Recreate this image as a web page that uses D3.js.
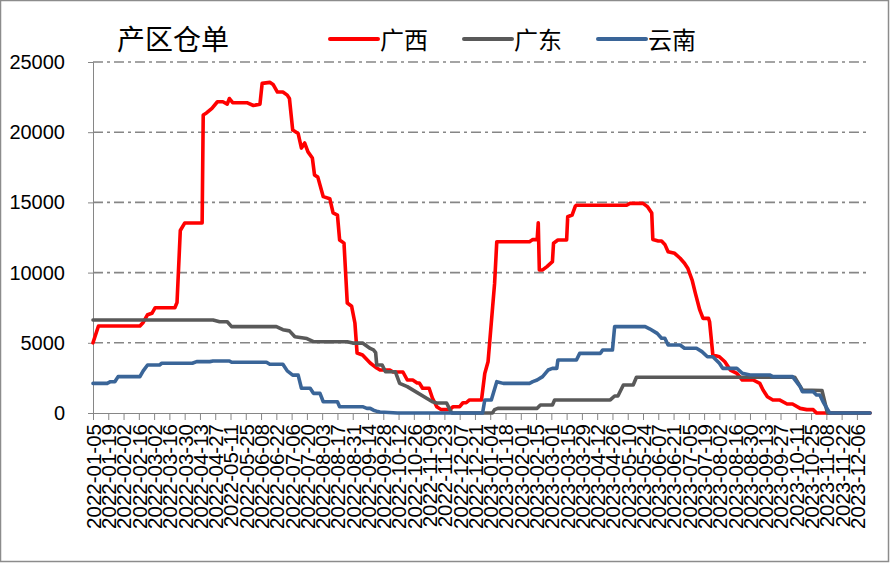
<!DOCTYPE html>
<html>
<head>
<meta charset="utf-8">
<script src="https://cdn.jsdelivr.net/npm/d3@7"></script>
<style>
  body { margin: 0; background: #fff; }
  svg { display: block; }
</style>
</head>
<body>
<svg width="890" height="564"></svg>
<script>
// tick labels, every 14 days
var tickDates = [
  "2022-01-05","2022-01-19","2022-02-02","2022-02-16","2022-03-02","2022-03-16","2022-03-30",
  "2022-04-13","2022-04-27","2022-05-11","2022-05-25","2022-06-08","2022-06-22","2022-07-06",
  "2022-07-20","2022-08-03","2022-08-17","2022-08-31","2022-09-14","2022-09-28","2022-10-12",
  "2022-10-26","2022-11-09","2022-11-23","2022-12-07","2022-12-21","2023-01-04","2023-01-18",
  "2023-02-01","2023-02-15","2023-03-01","2023-03-15","2023-03-29","2023-04-12","2023-04-26",
  "2023-05-10","2023-05-24","2023-06-07","2023-06-21","2023-07-05","2023-07-19","2023-08-02",
  "2023-08-16","2023-08-30","2023-09-13","2023-09-27","2023-10-11","2023-10-25","2023-11-08",
  "2023-11-22","2023-12-06"
];
var yTicks = [0, 5000, 10000, 15000, 20000, 25000];
var startDate = "2022-01-05", endDate = "2023-12-18";

var title = "产区仓单";
var seriesNames = ["广西", "广东", "云南"];
var seriesColors = ["#ff0000", "#595959", "#3a6598"];

// 广西
var guangxi = [
  ["2022-01-05",5000],["2022-01-10",6200],["2022-02-17",6200],["2022-02-20",6450],["2022-02-24",7000],
  ["2022-02-28",7100],["2022-03-03",7500],["2022-03-21",7500],["2022-03-23",7870],["2022-03-26",13000],
  ["2022-03-30",13530],["2022-04-15",13530],["2022-04-16",21230],["2022-04-19",21370],["2022-04-24",21700],
  ["2022-04-29",22170],["2022-05-04",22170],["2022-05-08",22000],["2022-05-10",22400],["2022-05-13",22100],
  ["2022-05-26",22100],["2022-06-01",21900],["2022-06-07",22000],["2022-06-09",23480],["2022-06-16",23550],
  ["2022-06-19",23400],["2022-06-23",22860],["2022-06-28",22860],["2022-07-02",22640],["2022-07-04",22400],
  ["2022-07-07",20150],["2022-07-12",19900],["2022-07-15",18870],["2022-07-18",19230],["2022-07-21",18600],
  ["2022-07-25",18160],["2022-07-27",16950],["2022-07-30",16800],["2022-08-04",15410],["2022-08-10",15260],
  ["2022-08-13",14250],["2022-08-17",14100],["2022-08-19",12320],["2022-08-23",12100],["2022-08-26",7830],
  ["2022-08-30",7600],["2022-09-02",6410],["2022-09-04",4270],["2022-09-09",4130],["2022-09-16",3560],
  ["2022-09-22",3200],["2022-09-25",3060],["2022-10-04",3060],["2022-10-07",2920],["2022-10-16",2920],
  ["2022-10-20",2350],["2022-10-25",2350],["2022-10-29",2140],["2022-10-31",2140],["2022-11-03",1760],
  ["2022-11-09",1760],["2022-11-12",1070],["2022-11-16",450],["2022-11-20",240],["2022-11-28",240],
  ["2022-12-01",450],["2022-12-07",450],["2022-12-10",730],["2022-12-13",730],["2022-12-16",930],
  ["2022-12-27",930],["2022-12-30",2820],["2023-01-02",3650],["2023-01-08",9230],["2023-01-10",12200],
  ["2023-02-09",12200],["2023-02-12",12350],["2023-02-16",12350],["2023-02-17",13550],["2023-02-18",10190],
  ["2023-02-21",10190],["2023-02-25",10430],["2023-03-02",10780],["2023-03-03",12090],["2023-03-07",12320],
  ["2023-03-15",12320],["2023-03-16",13980],["2023-03-20",14100],["2023-03-23",14740],["2023-03-24",14800],
  ["2023-05-09",14800],["2023-05-12",14930],["2023-05-24",14930],["2023-05-28",14700],["2023-06-01",14240],
  ["2023-06-02",12360],["2023-06-07",12250],["2023-06-10",12250],["2023-06-13",12010],["2023-06-16",11490],
  ["2023-06-22",11370],["2023-06-27",11020],["2023-07-01",10670],["2023-07-04",10310],["2023-07-08",9470],
  ["2023-07-11",8520],["2023-07-15",7340],["2023-07-18",6740],["2023-07-23",6740],["2023-07-24",6500],
  ["2023-07-27",4130],["2023-08-02",4010],["2023-08-07",3650],["2023-08-12",3060],["2023-08-18",2830],
  ["2023-08-23",2350],["2023-09-02",2350],["2023-09-08",2110],["2023-09-11",1640],["2023-09-15",1160],
  ["2023-09-20",930],["2023-09-26",930],["2023-10-03",640],["2023-10-08",640],["2023-10-15",330],
  ["2023-10-21",240],["2023-10-27",240],["2023-10-30",0],["2023-12-18",0]
];

// 广东
var guangdong = [
  ["2022-01-05",6620],["2022-04-25",6620],["2022-05-01",6500],["2022-05-08",6500],["2022-05-12",6150],
  ["2022-06-22",6150],["2022-06-28",5930],["2022-07-04",5850],["2022-07-09",5430],["2022-07-20",5300],
  ["2022-07-26",5080],["2022-08-26",5080],["2022-08-31",4980],["2022-09-09",4980],["2022-09-16",4600],
  ["2022-09-19",4500],["2022-09-21",4300],["2022-09-22",3420],["2022-09-27",3420],["2022-09-30",2940],
  ["2022-10-09",2940],["2022-10-13",2110],["2022-10-20",1880],["2022-11-12",800],["2022-11-16",710],
  ["2022-11-25",710],["2022-11-28",240],["2022-11-30",0],["2023-01-06",0],["2023-01-08",240],
  ["2023-01-11",330],["2023-02-16",330],["2023-02-19",570],["2023-03-02",570],["2023-03-04",930],
  ["2023-04-24",930],["2023-04-28",1210],["2023-05-01",1210],["2023-05-06",1990],["2023-05-15",1990],
  ["2023-05-18",2550],["2023-10-10",2550],["2023-10-17",1640],["2023-11-04",1600],["2023-11-09",0],
  ["2023-12-18",0]
];

// 云南
var yunnan = [
  ["2022-01-05",2110],["2022-01-18",2110],["2022-01-21",2230],["2022-01-25",2230],["2022-01-28",2590],
  ["2022-02-17",2590],["2022-02-20",3000],["2022-02-24",3420],["2022-03-07",3420],["2022-03-09",3540],
  ["2022-04-06",3540],["2022-04-10",3660],["2022-04-22",3660],["2022-04-25",3700],["2022-05-10",3700],
  ["2022-05-12",3610],["2022-06-13",3610],["2022-06-16",3470],["2022-06-28",3470],["2022-07-02",3000],
  ["2022-07-07",2700],["2022-07-12",2700],["2022-07-15",1760],["2022-07-23",1760],["2022-07-26",1400],
  ["2022-08-01",1400],["2022-08-04",800],["2022-08-17",800],["2022-08-19",450],["2022-09-09",450],
  ["2022-09-13",330],["2022-09-16",330],["2022-09-19",200],["2022-09-23",100],["2022-09-25",70],
  ["2022-10-11",0],["2022-12-28",0],["2022-12-30",930],["2023-01-05",930],["2023-01-10",2230],
  ["2023-01-16",2110],["2023-02-09",2110],["2023-02-12",2230],["2023-02-16",2350],["2023-02-21",2590],
  ["2023-02-26",3060],["2023-03-02",3180],["2023-03-06",3180],["2023-03-07",3780],["2023-03-24",3780],
  ["2023-03-27",4250],["2023-04-15",4250],["2023-04-17",4490],["2023-04-26",4490],["2023-04-28",6150],
  ["2023-05-26",6150],["2023-05-30",6000],["2023-06-06",5670],["2023-06-10",5320],["2023-06-13",5320],
  ["2023-06-16",4840],["2023-06-27",4840],["2023-07-01",4610],["2023-07-12",4610],["2023-07-17",4370],
  ["2023-07-22",4010],["2023-07-27",4010],["2023-08-02",3540],["2023-08-05",3180],["2023-08-18",3180],
  ["2023-08-23",2830],["2023-08-30",2710],["2023-09-17",2710],["2023-09-20",2590],["2023-10-08",2590],
  ["2023-10-15",1880],["2023-10-17",1520],["2023-10-27",1520],["2023-10-30",1280],["2023-11-02",1280],
  ["2023-11-05",800],["2023-11-11",0],["2023-12-18",0]
];

var svg = d3.select("svg"),
    width = +svg.attr("width"),
    height = +svg.attr("height");

var parse = d3.utcParse("%Y-%m-%d");
var plotLeft = 93, plotRight = 870, plotTop = 62, plotBottom = 413;

var x = d3.scaleUtc()
    .domain([parse(startDate), parse(endDate)])
    .range([plotLeft, plotRight]);

var y = d3.scaleLinear()
    .domain([0, 25000])
    .range([plotBottom, plotTop]);

// outer frame
svg.append("rect")
    .attr("x", 0.5).attr("y", 0.5)
    .attr("width", width - 2).attr("height", height - 3)
    .attr("fill", "#fff")
    .attr("stroke", "#8c8c8c")
    .attr("stroke-width", 1.5);

// grid lines (dash-dot)
svg.append("g")
  .selectAll("line")
  .data(yTicks.filter(function(d) { return d > 0; }))
  .enter().append("line")
    .attr("x1", plotLeft).attr("x2", plotRight - 2)
    .attr("y1", function(d) { return y(d); })
    .attr("y2", function(d) { return y(d); })
    .attr("stroke", "#868686")
    .attr("stroke-width", 1.6)
    .attr("stroke-dasharray", "10,4,3,4");

// y axis
var yAxis = svg.append("g")
    .attr("transform", "translate(" + plotLeft + ",0)")
    .call(d3.axisLeft(y).tickValues(yTicks).tickSize(5).tickPadding(23).tickFormat(d3.format("d")));
yAxis.select(".domain").attr("stroke", "#868686");
yAxis.selectAll(".tick line").attr("stroke", "#868686");
yAxis.selectAll("text")
    .attr("font-family", "'Liberation Sans', Arial, sans-serif")
    .attr("font-size", 20)
    .attr("fill", "#000");

// x axis
var xAxis = svg.append("g")
    .attr("transform", "translate(0," + plotBottom + ")")
    .call(d3.axisBottom(x).tickValues(tickDates.map(parse)).tickSize(7).tickSizeOuter(0)
          .tickFormat(d3.utcFormat("%Y-%m-%d")));
xAxis.select(".domain").attr("stroke", "#868686");
xAxis.selectAll(".tick line").attr("stroke", "#868686");
xAxis.selectAll("text")
    .attr("font-family", "'Liberation Sans', Arial, sans-serif")
    .attr("font-size", 20.5)
    .attr("fill", "#000")
    .attr("text-anchor", "end")
    .attr("transform", "rotate(-90)")
    .attr("x", -11)
    .attr("y", 0)
    .attr("dy", "0.36em");

// series lines
var line = d3.line()
    .x(function(d) { return x(parse(d[0])); })
    .y(function(d) { return y(d[1]); });

var allSeries = [guangxi, guangdong, yunnan];
svg.append("g")
  .selectAll("path")
  .data(allSeries)
  .enter().append("path")
    .attr("d", line)
    .attr("fill", "none")
    .attr("stroke", function(d, i) { return seriesColors[i]; })
    .attr("stroke-width", 3.6)
    .attr("stroke-linejoin", "round")
    .attr("stroke-linecap", "round");

// title
svg.append("text")
    .attr("x", 117).attr("y", 50)
    .attr("font-family", "'Noto Sans CJK SC', sans-serif")
    .attr("font-size", 28)
    .attr("fill", "#000")
    .text(title);

// legend
var legendX = [330, 464, 598];
var legend = svg.append("g")
  .selectAll("g")
  .data(seriesNames)
  .enter().append("g")
    .attr("transform", function(d, i) { return "translate(" + legendX[i] + ",39)"; });
legend.append("line")
    .attr("x1", 0).attr("x2", 48)
    .attr("stroke", function(d, i) { return seriesColors[i]; })
    .attr("stroke-width", 4)
    .attr("stroke-linecap", "round");
legend.append("text")
    .attr("x", 50).attr("y", 10)
    .attr("font-family", "'Noto Sans CJK SC', sans-serif")
    .attr("font-size", 24)
    .attr("fill", "#000")
    .text(function(d) { return d; });
</script>
</body>
</html>
